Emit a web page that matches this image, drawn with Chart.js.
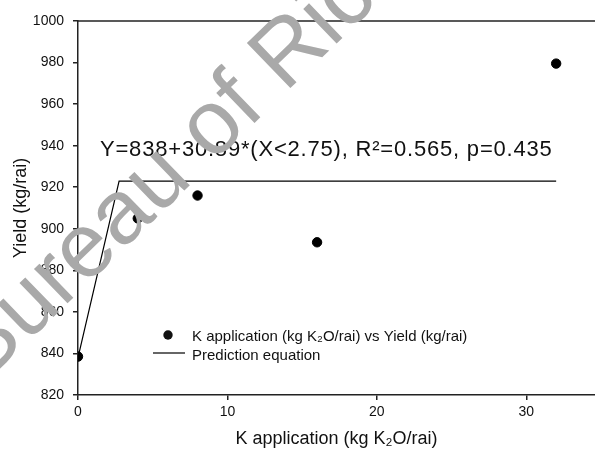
<!DOCTYPE html>
<html>
<head>
<meta charset="utf-8">
<title>K application vs Yield</title>
<script src="https://cdn.jsdelivr.net/npm/chart.js@4.4.1/dist/chart.umd.min.js"></script>
<style>
  html, body { margin: 0; padding: 0; background: #fff; }
  #wrap { width: 595px; height: 453px; position: relative; }
</style>
</head>
<body>
<div id="wrap"><canvas id="yield-chart" width="595" height="453"></canvas></div>
<script>
// Dados observados: dose de K (kg K2O/rai) e produtividade (kg/rai)
const doseK = [0, 4, 8, 16, 32];
const produtividade = [838.5, 905, 916, 893.5, 979.5];

// Equação de predição (linear-platô): Y=838+30.89*X até X=2.75
const predX = [0, 2.75, 32];
const predY = [838, 922.95, 922.95];

// Marcas dos eixos
const xTicks = [0, 10, 20, 30];
const yTicks = [820, 840, 860, 880, 900, 920, 940, 960, 980, 1000];

const equacao = 'Y=838+30.89*(X<2.75), R\u00B2=0.565, p=0.435';
const legendaPontos = 'K application (kg K\u2082O/rai) vs Yield (kg/rai)';
const legendaLinha = 'Prediction equation';
const marcaDagua = 'Bureau of Rice Research';

const FONT = '"Liberation Sans", Arial, sans-serif';

// Moldura superior, texto da equação, legenda e marca d'água
const extras = {
  id: 'extras',
  afterDraw(chart) {
    const ctx = chart.ctx;
    const area = chart.chartArea;

    ctx.save();
    // linha superior da moldura
    ctx.strokeStyle = '#222';
    ctx.lineWidth = 1.5;
    ctx.beginPath();
    ctx.moveTo(area.left, area.top);
    ctx.lineTo(area.right, area.top);
    ctx.stroke();

    // equação
    ctx.fillStyle = '#111';
    ctx.font = '22px ' + FONT;
    ctx.textAlign = 'left';
    ctx.textBaseline = 'alphabetic';
    ctx.letterSpacing = '0.8px';
    ctx.fillText(equacao, 100, 156);
    ctx.letterSpacing = '0px';

    // legenda
    ctx.font = '15px ' + FONT;
    ctx.beginPath();
    ctx.arc(168, 335, 4.7, 0, Math.PI * 2);
    ctx.fill();
    ctx.fillText(legendaPontos, 192, 341);
    ctx.strokeStyle = '#000';
    ctx.lineWidth = 1.2;
    ctx.beginPath();
    ctx.moveTo(153, 353);
    ctx.lineTo(185, 353);
    ctx.stroke();
    ctx.fillText(legendaLinha, 192, 360);

    // marca d'água
    ctx.translate(-17, 385);
    ctx.rotate(-44 * Math.PI / 180);
    ctx.font = '91px ' + FONT;
    ctx.fillStyle = '#a9a9a9';
    ctx.fillText(marcaDagua, 0, 0);
    ctx.restore();
  }
};

new Chart(document.getElementById('yield-chart').getContext('2d'), {
  type: 'scatter',
  data: {
    datasets: [
      {
        label: legendaPontos,
        data: doseK.map((x, i) => ({ x, y: produtividade[i] })),
        backgroundColor: '#000',
        borderColor: '#000',
        pointRadius: 4.7,
        pointHoverRadius: 4.7,
        order: 1
      },
      {
        label: legendaLinha,
        type: 'line',
        data: predX.map((x, i) => ({ x, y: predY[i] })),
        borderColor: '#000',
        borderWidth: 1.2,
        pointRadius: 0,
        fill: false,
        tension: 0,
        order: 2
      }
    ]
  },
  options: {
    responsive: false,
    animation: false,
    events: [],
    layout: { autoPadding: false, padding: { top: 21, left: 0, right: 0, bottom: 0 } },
    plugins: {
      legend: { display: false },
      tooltip: { enabled: false }
    },
    scales: {
      x: {
        type: 'linear',
        min: 0,
        max: 34.6,
        afterBuildTicks: s => { s.ticks = xTicks.map(v => ({ value: v })); },
        afterFit: s => {
          s.height = 58;
          s.paddingLeft = 0;
          s.paddingRight = 0;
        },
        border: { display: true, color: '#222', width: 1.5 },
        grid: { drawOnChartArea: false, drawTicks: true, tickLength: 5, color: '#222', lineWidth: 1.5 },
        ticks: { color: '#111', font: { family: FONT, size: 14 }, padding: 4, maxRotation: 0 },
        title: {
          display: true,
          text: 'K application (kg K\u2082O/rai)',
          color: '#111',
          font: { family: FONT, size: 18 },
          padding: { top: 0, bottom: 3 }
        }
      },
      y: {
        type: 'linear',
        min: 820,
        max: 1000,
        afterBuildTicks: s => { s.ticks = yTicks.map(v => ({ value: v })); },
        afterFit: s => { s.width = 78; },
        border: { display: true, color: '#222', width: 1.5 },
        grid: { drawOnChartArea: false, drawTicks: true, tickLength: 5, color: '#222', lineWidth: 1.5 },
        ticks: {
          color: '#111',
          font: { family: FONT, size: 14 },
          padding: 9,
          callback: v => String(v)
        },
        title: {
          display: true,
          text: 'Yield (kg/rai)',
          color: '#111',
          font: { family: FONT, size: 18 },
          padding: { top: 10, bottom: 0 }
        }
      }
    }
  },
  plugins: [extras]
});
</script>
</body>
</html>
